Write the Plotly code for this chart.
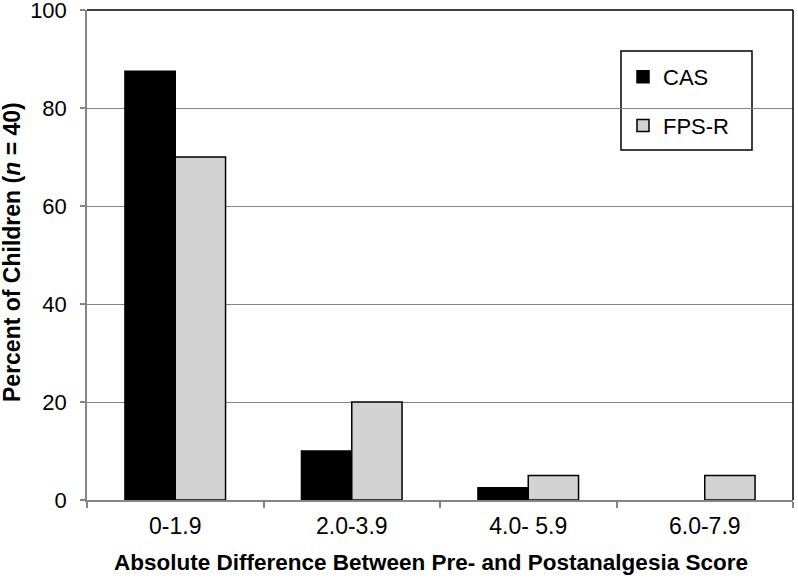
import plotly.graph_objects as go

categories = ["0-1.9", "2.0-3.9", "4.0- 5.9", "6.0-7.9"]
cas_values = [87.5, 10, 2.5, 0]
fpsr_values = [70, 20, 5, 5]
y_ticks = [0, 20, 40, 60, 80, 100]

FONT = "Liberation Sans, Arial, Helvetica, sans-serif"
GRAY = "#858585"

W, H = 798, 578
L, R, T, B = 87, 5, 10, 78
PW = W - L - R
PH = H - T - B


def px_x(x):
    return (x - L) / PW


def px_y(y):
    return 1 - (y - T) / PH


fig = go.Figure()
fig.add_trace(go.Bar(
    x=categories, y=cas_values, name="CAS", legendgroup="a",
    marker=dict(color="#000000",
                line=dict(color="#000000", width=[1.5 if v > 0 else 0 for v in cas_values])),
))
fig.add_trace(go.Bar(
    x=categories, y=fpsr_values, name="FPS-R", legendgroup="b",
    marker=dict(color="#d3d3d3", line=dict(color="#000000", width=1.5)),
))

fig.update_layout(
    width=W, height=H,
    margin=dict(l=L, r=R, t=T, b=B, autoexpand=False),
    paper_bgcolor="white", plot_bgcolor="white",
    barmode="group", bargap=0.43, bargroupgap=0,
    font=dict(family=FONT, size=22, color="#000000"),
    showlegend=True,
    legend=dict(
        x=px_x(623), y=px_y(56), xanchor="left", yanchor="top",
        bgcolor="rgba(0,0,0,0)", borderwidth=0,
        font=dict(family=FONT, size=22, color="#000000"),
        tracegroupgap=17,
    ),
    xaxis=dict(
        showline=True, linecolor=GRAY, linewidth=1.5,
        ticks="outside", ticklen=6, tickcolor=GRAY, tickwidth=1.5,
        tickson="boundaries", showgrid=False, ticklabelstandoff=5,
        tickfont=dict(family=FONT, size=23),
    ),
    yaxis=dict(
        range=[0, 100], tickvals=y_ticks,
        showline=True, linecolor=GRAY, linewidth=1.5,
        ticks="outside", ticklen=5, tickcolor=GRAY, tickwidth=1.5,
        showgrid=True, gridcolor=GRAY, gridwidth=1.2,
        zeroline=False, ticklabeloverflow="allow", ticklabelstandoff=9,
        tickfont=dict(family=FONT, size=22),
    ),
    shapes=[
        dict(type="line", xref="paper", yref="paper", x0=0, x1=1, y0=1, y1=1,
             line=dict(color="#000000", width=1.5)),
        dict(type="line", xref="paper", yref="paper", x0=1, x1=1, y0=0, y1=1,
             line=dict(color="#000000", width=1.5)),
        dict(type="rect", xref="paper", yref="paper",
             x0=px_x(621), x1=px_x(752), y0=px_y(150), y1=px_y(51),
             line=dict(color="#000000", width=1.5), fillcolor="white", layer="below"),
    ],
    annotations=[
        dict(text="<b>Absolute Difference Between Pre- and Postanalgesia Score</b>",
             xref="paper", yref="paper", x=px_x(431), y=px_y(562),
             xanchor="center", yanchor="middle", showarrow=False,
             font=dict(family=FONT, size=22.5)),
        dict(text="<b>Percent of Children (<i>n</i> = 40)</b>",
             xref="paper", yref="paper", x=px_x(12), y=px_y(252),
             xanchor="center", yanchor="middle", showarrow=False, textangle=-90,
             font=dict(family=FONT, size=23)),
    ],
)

fig.write_html("out.html", config={"displayModeBar": False},
               post_script="document.body.style.margin='0';")
